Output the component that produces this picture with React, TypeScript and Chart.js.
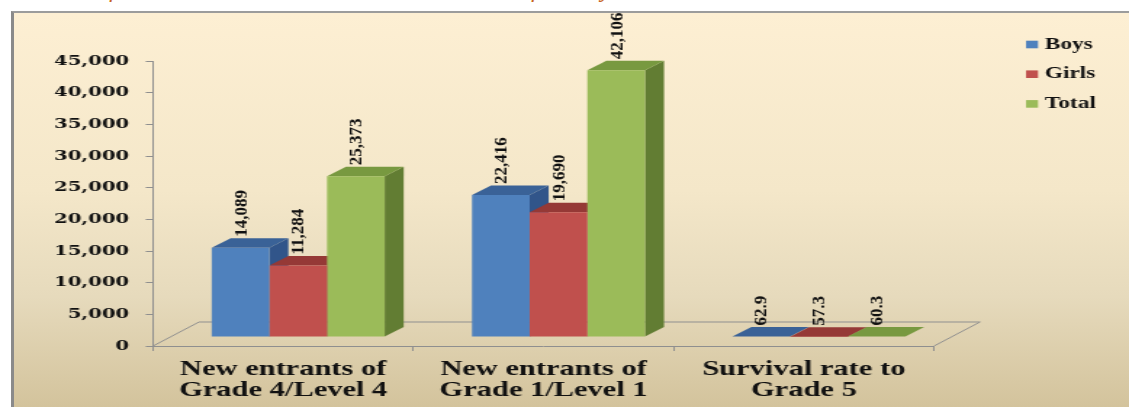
import React, { useEffect, useRef } from "react";
import { Chart, registerables } from "chart.js";

Chart.register(...registerables);

// ---- data ----
const categories = [
  ["New entrants of", "Grade 4/Level 4"],
  ["New entrants of", "Grade 1/Level 1"],
  ["Survival rate to", "Grade 5"],
];
const seriesNames = ["Boys", "Girls", "Total"];
const boys = [14089, 22416, 62.9];
const girls = [11284, 19690, 57.3];
const total = [25373, 42106, 60.3];
const yMin = 0;
const yMax = 45000;
const yStep = 5000;

// ---- styles ----
const frontColors = ["#4F81BD", "#C0504D", "#9BBB59"];
const sideColors = ["#31558A", "#8A3331", "#627D33"];
const topColors = ["#3A6297", "#953936", "#789940"];

const CANVAS_W = 778;
const CANVAS_H = 407;
const S = 1129 / CANVAS_W; // horizontal stretch of the picture

const OX = 15 / S; // bar plane offset from axis plane
const OY = -9;
const BDX = 19 / S; // bar depth
const BDY = -9.5;
const FDX = 46 / S; // floor depth
const FDY = -24;

const LEGEND_X = 1026 / S;
const LEGEND_TEXT_X = 1045 / S;
const LEGEND_Y0 = 44.5;
const LEGEND_STEP = 29.7;

const threeD = {
  id: "threeD",
  beforeDatasetsDraw(chart: any) {
    const { ctx, chartArea, scales } = chart;
    const L = chartArea.left;
    const R = chartArea.right;
    const B = scales.y.getPixelForValue(0);
    ctx.save();
    ctx.strokeStyle = "#8f8f8f";
    ctx.lineWidth = 1;
    ctx.beginPath();
    ctx.moveTo(L, B);
    ctx.lineTo(L + FDX, B + FDY);
    ctx.lineTo(R + FDX, B + FDY);
    ctx.lineTo(R, B);
    ctx.stroke();
    ctx.restore();

    ctx.save();
    ctx.translate(OX, OY);
    const n = chart.data.labels.length;
    const nd = chart.data.datasets.length;
    for (let c = 0; c < n; c++) {
      for (let d = 0; d < nd; d++) {
        const el = chart.getDatasetMeta(d).data[c];
        if (!el) continue;
        const x = el.x, y = el.y, base = el.base, w = el.width;
        const l = x - w / 2, r = x + w / 2;
        ctx.fillStyle = sideColors[d];
        ctx.beginPath();
        ctx.moveTo(r, y);
        ctx.lineTo(r + BDX, y + BDY);
        ctx.lineTo(r + BDX, base + BDY);
        ctx.lineTo(r, base);
        ctx.closePath();
        ctx.fill();
        ctx.fillStyle = topColors[d];
        ctx.beginPath();
        ctx.moveTo(l, y);
        ctx.lineTo(r, y);
        ctx.lineTo(r + BDX, y + BDY);
        ctx.lineTo(l + BDX, y + BDY);
        ctx.closePath();
        ctx.fill();
      }
    }
  },
  afterDatasetsDraw(chart: any) {
    const { ctx } = chart;
    ctx.restore();
  },
  afterDraw(chart: any) {
    const { ctx } = chart;
    ctx.save();
    ctx.fillStyle = "#111";
    ctx.font = 'bold 12.5px "Liberation Serif"';
    ctx.textAlign = "left";
    ctx.textBaseline = "middle";
    chart.data.datasets.forEach((ds: any, d: number) => {
      const meta = chart.getDatasetMeta(d);
      meta.data.forEach((el: any, c: number) => {
        const v = ds.data[c];
        const txt = Number(v).toLocaleString("en-US");
        const ax = el.x + OX + 1 / S;
        const ay = el.y + OY + BDY - 1.5;
        // rotate -90deg around anchor and stretch along the text direction
        ctx.setTransform(0, -1.36, 1, 0, ax, ay);
        ctx.fillText(txt, 0, 0);
      });
    });
    ctx.setTransform(1, 0, 0, 1, 0, 0);
    ctx.restore();
  },
};

const sideLegend = {
  id: "sideLegend",
  afterDraw(chart: any) {
    const { ctx } = chart;
    ctx.save();
    ctx.font = 'bold 16px "Liberation Serif"';
    ctx.textAlign = "left";
    ctx.textBaseline = "middle";
    chart.data.datasets.forEach((ds: any, i: number) => {
      const cy = LEGEND_Y0 + i * LEGEND_STEP;
      ctx.fillStyle = ds.backgroundColor;
      ctx.fillRect(LEGEND_X, cy - 3.8, 8.3, 7.6);
      ctx.fillStyle = "#111";
      ctx.fillText(ds.label, LEGEND_TEXT_X, cy);
    });
    ctx.restore();
  },
};

export default function App() {
  const ref = useRef<HTMLCanvasElement>(null);

  useEffect(() => {
    if (!ref.current) return;
    const seriesData = [boys, girls, total];
    const chart = new Chart(ref.current, {
      type: "bar",
      data: {
        labels: categories,
        datasets: seriesNames.map((name, i) => ({
          label: name,
          data: seriesData[i],
          backgroundColor: frontColors[i],
          borderWidth: 0,
          categoryPercentage: 0.6645,
          barPercentage: 1,
          clip: false,
        })),
      },
      options: {
        responsive: false,
        animation: false,
        devicePixelRatio: 1,
        events: [],
        layout: {
          padding: { top: 61, right: CANVAS_W - 934 / S, bottom: 0, left: 0 },
        },
        plugins: {
          legend: { display: false },
          tooltip: { enabled: false },
          title: { display: false },
        },
        scales: {
          x: {
            afterFit: (scale: any) => {
              scale.height = 61;
            },
            grid: {
              drawOnChartArea: false,
              drawTicks: true,
              tickLength: 5,
              color: "#8f8f8f",
              offset: true,
            },
            border: { color: "#8f8f8f", width: 1 },
            ticks: {
              color: "#111",
              padding: 8,
              maxRotation: 0,
              autoSkip: false,
              font: { family: '"Liberation Serif"', weight: "bold", size: 21, lineHeight: 1.0 },
            },
          },
          y: {
            min: yMin,
            max: yMax,
            afterFit: (scale: any) => {
              scale.width = 153 / S;
            },
            grid: {
              drawOnChartArea: false,
              drawTicks: true,
              tickLength: 5,
              color: "#8f8f8f",
            },
            border: { color: "#8f8f8f", width: 1 },
            ticks: {
              stepSize: yStep,
              color: "#111",
              padding: 11.5,
              font: { family: '"DejaVu Serif"', weight: "bold", size: 13.5 },
              callback: (v: any) => Number(v).toLocaleString("en-US"),
            },
          },
        },
      },
      plugins: [threeD, sideLegend],
    } as any);
    return () => chart.destroy();
  }, []);

  return (
    <div
      style={{
        position: "fixed",
        left: 0,
        top: 0,
        width: 1129,
        height: 407,
        background: "#ffffff",
        overflow: "hidden",
      }}
    >
      <div
        style={{
          position: "absolute",
          left: 14,
          top: -23,
          font: 'italic 24px "Liberation Serif"',
          lineHeight: "24px",
          color: "#c8641e",
          whiteSpace: "nowrap",
        }}
      >
        Number of new entrants and survival rate to Grade 5 for the year 2012
      </div>
      <div
        style={{
          position: "absolute",
          left: 11,
          top: 11,
          right: 0,
          bottom: 0,
          borderTop: "2px solid #9c9c9c",
          borderLeft: "3px solid #8a8a8a",
          background:
            "linear-gradient(to bottom, #FDEFD3 0%, #F4E7C9 45%, #E6DABC 72%, #D3C39C 100%)",
        }}
      />
      <div
        style={{
          position: "absolute",
          left: 0,
          top: 0,
          width: CANVAS_W,
          height: CANVAS_H,
          transform: `scaleX(${S})`,
          transformOrigin: "0 0",
        }}
      >
        <canvas ref={ref} width={CANVAS_W} height={CANVAS_H} style={{ display: "block" }} />
      </div>
    </div>
  );
}
